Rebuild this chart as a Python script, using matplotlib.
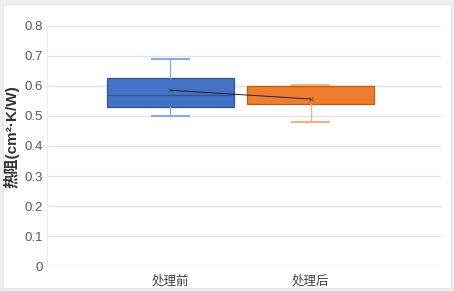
import matplotlib.pyplot as plt
from matplotlib.patches import Rectangle

plt.rcParams['font.family'] = ['Liberation Sans', 'Noto Sans CJK SC', 'DejaVu Sans']

# 箱线图数据
categories = ['处理前', '处理后']
q1 = [0.531, 0.538]
med = [0.568, 0.599]
q3 = [0.627, 0.599]
whislo = [0.500, 0.479]
whishi = [0.690, 0.601]
means = [0.585, 0.556]

face_colors = ['#4472C4', '#ED7D31']
edge_colors = ['#2F5597', '#C55A11']
whisker_colors = ['#8FAADC', '#F4B183']

yticks = [0, 0.1, 0.2, 0.3, 0.4, 0.5, 0.6, 0.7, 0.8]

W, H = 454, 291
fig = plt.figure(figsize=(W / 100, H / 100), dpi=100)
fig.patch.set_facecolor('#eeeff1')
card = Rectangle((3 / W, 3 / H), 448 / W, 284 / H, transform=fig.transFigure,
                 facecolor='white', edgecolor='#e4e4e4', lw=0.8, zorder=-5)
fig.patches.append(card)

ax = fig.add_axes([47 / W, 1 - 266.5 / H, 394 / W, 241 / H])
ax.set_facecolor('none')
ax.set_zorder(2)

pos = list(range(len(categories)))
for i in pos:
    stats = [dict(q1=q1[i], med=med[i], q3=q3[i], whislo=whislo[i],
                  whishi=whishi[i], mean=means[i], fliers=[])]
    ax.bxp(stats, positions=[i], widths=0.907, patch_artist=True,
           showmeans=True, meanline=False, manage_ticks=False,
           boxprops=dict(facecolor=face_colors[i], edgecolor=edge_colors[i], lw=0.9),
           medianprops=dict(color=edge_colors[i], lw=0.8),
           whiskerprops=dict(color=whisker_colors[i], lw=1.0),
           capprops=dict(color=whisker_colors[i], lw=1.5),
           capwidths=0.27,
           meanprops=dict(marker='x', markersize=3, markeredgecolor='#555555',
                          markeredgewidth=0.6),
           zorder=3)

ax.plot(pos, means, color='#222222', lw=0.7, zorder=4)

ax.set_xlim(-0.882, 1.932)
ax.set_ylim(0, 0.8)
ax.set_yticks(yticks)
ax.set_yticklabels(['0' if v == 0 else f'{v:.1f}' for v in yticks])
ax.set_xticks(pos)
ax.set_xticklabels(categories, family=['Noto Sans CJK SC'])
ax.tick_params(axis='y', length=0, pad=3, labelsize=9.5, labelcolor='#595959')
ax.tick_params(axis='x', length=0, pad=6, labelsize=9, labelcolor='#404040')
ax.grid(axis='y', color='#e3e3e3', lw=1.0, zorder=0)
ax.set_axisbelow(True)
for s in ['top', 'right', 'bottom']:
    ax.spines[s].set_visible(False)
ax.spines['left'].set_color('#ececec')
ax.spines['left'].set_linewidth(0.8)

ax.set_ylabel('热阻(cm²·K/W)', fontsize=11, fontweight='bold', color='#333333', va='center')
ax.yaxis.set_label_coords(-0.089, 0.54)

fig.savefig('out.png', dpi=100, facecolor=fig.get_facecolor())
